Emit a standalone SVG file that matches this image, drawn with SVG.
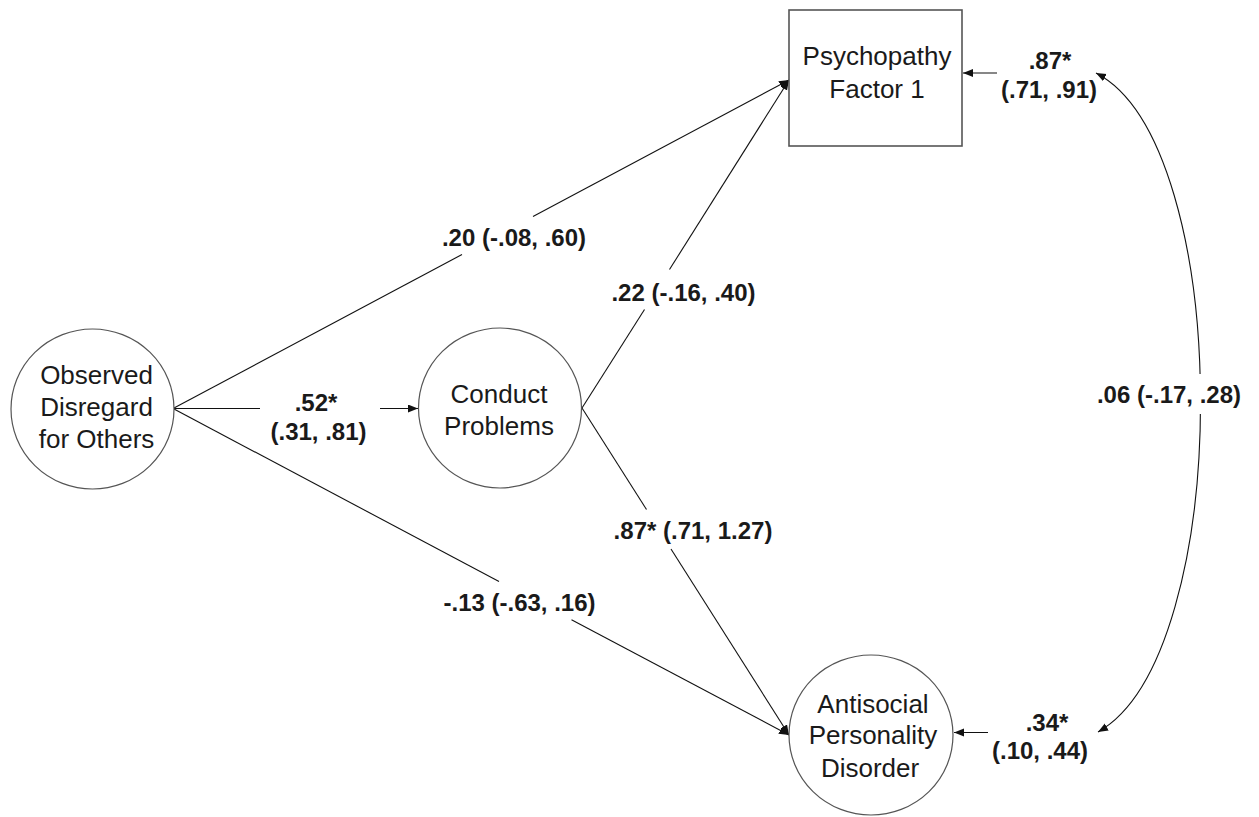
<svg xmlns="http://www.w3.org/2000/svg" width="1259" height="817" viewBox="0 0 1259 817">
<style>
.node{fill:#fff;stroke:#555;stroke-width:1.2}
.box{fill:#fff;stroke:#555;stroke-width:1.6}
.nl{font-family:"Liberation Sans",Arial,sans-serif;font-size:26px;fill:#1a1a1a;text-anchor:middle}
.el{font-family:"Liberation Sans",Arial,sans-serif;font-size:24px;font-weight:bold;fill:#1a1a1a;text-anchor:middle}
.c{fill:none;stroke:#111;stroke-width:1.1}
</style>
<defs>
<marker id="ah" markerUnits="userSpaceOnUse" markerWidth="12" markerHeight="10" refX="10" refY="4" orient="auto-start-reverse">
<path d="M0,0 L10,4 L0,8 Z" fill="#111"/>
</marker>
</defs>
<g id="connectors">
<!-- Observed -> Psychopathy -->
<path class="c" d="M174,408 L462,254.5"/>
<path class="c" d="M533,216.5 L789,80" marker-end="url(#ah)"/>
<!-- Conduct -> Psychopathy -->
<path class="c" d="M582,408 L644.5,309.5"/>
<path class="c" d="M669.5,269.5 L789,80" marker-end="url(#ah)"/>
<!-- Observed -> Conduct -->
<path class="c" d="M174,408.5 L260,408.5"/>
<path class="c" d="M380,408.5 L418,408.5" marker-end="url(#ah)"/>
<!-- Observed -> Antisocial -->
<path class="c" d="M174,409 L499,581.5"/>
<path class="c" d="M571.5,619.7 L789,735" marker-end="url(#ah)"/>
<!-- Conduct -> Antisocial -->
<path class="c" d="M582,408 L646.5,509.5"/>
<path class="c" d="M671,549 L789,735" marker-end="url(#ah)"/>
<!-- residual arrows -->
<path class="c" d="M997,73 L963,73" marker-end="url(#ah)"/>
<path class="c" d="M988,732.5 L954,732.5" marker-end="url(#ah)"/>
<!-- covariance -->
<path class="c" d="M1096,73 C1235,145 1235,655 1098,732" marker-start="url(#ah)" marker-end="url(#ah)"/>
<rect x="1150" y="374" width="60" height="40" fill="#fff"/>
</g>
<g id="observed">
<ellipse class="node" cx="92.5" cy="409" rx="81.5" ry="80"/>
<text class="nl" x="96.5" y="384">Observed</text>
<text class="nl" x="96.5" y="416">Disregard</text>
<text class="nl" x="96.5" y="448">for Others</text>
</g>
<g id="conduct">
<ellipse class="node" cx="500" cy="408" rx="81.5" ry="80"/>
<text class="nl" x="499" y="403">Conduct</text>
<text class="nl" x="499" y="435">Problems</text>
</g>
<g id="psychopathy">
<rect class="box" x="789" y="10" width="173" height="136"/>
<text class="nl" x="877" y="64.5">Psychopathy</text>
<text class="nl" x="877" y="98">Factor 1</text>
</g>
<g id="antisocial">
<ellipse class="node" cx="871" cy="735" rx="82" ry="80"/>
<text class="nl" x="873" y="712.5">Antisocial</text>
<text class="nl" x="873" y="744">Personality</text>
<text class="nl" x="870" y="776.5">Disorder</text>
</g>
<g id="labels">
<text class="el" x="514" y="246">.20 (-.08, .60)</text>
<text class="el" x="683.5" y="301">.22 (-.16, .40)</text>
<text class="el" x="316" y="411">.52*</text>
<text class="el" x="318.5" y="440">(.31, .81)</text>
<text class="el" x="519.5" y="611">-.13 (-.63, .16)</text>
<text class="el" x="693" y="539">.87* (.71, 1.27)</text>
<text class="el" x="1050" y="69">.87*</text>
<text class="el" x="1049" y="98">(.71, .91)</text>
<text class="el" x="1047" y="731">.34*</text>
<text class="el" x="1040" y="759">(.10, .44)</text>
<text class="el" x="1169" y="403">.06 (-.17, .28)</text>
</g>
</svg>
